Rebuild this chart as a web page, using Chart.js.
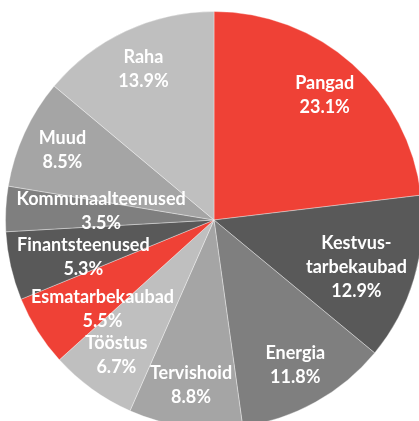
<!DOCTYPE html>
<html>
<head>
<meta charset="utf-8">
<script src="https://cdn.jsdelivr.net/npm/chart.js@4/dist/chart.umd.min.js"></script>
<style>
  html, body { margin: 0; padding: 0; background: #fff; overflow: hidden; }
  #wrap { width: 419px; height: 421px; overflow: hidden; position: relative; }
  canvas { position: absolute; left: 0; top: 0; }
</style>
</head>
<body>
<div id="wrap"><canvas id="pie" width="430" height="440"></canvas></div>
<script>
const sectors = ['Pangad', ['Kestvus-', 'tarbekaubad'], 'Energia', 'Tervishoid', 'Tööstus',
  'Esmatarbekaubad', 'Finantsteenused', 'Kommunaalteenused', 'Muud', 'Raha'];
const shares = [23.1, 12.9, 11.8, 8.8, 6.7, 5.5, 5.3, 3.5, 8.5, 13.9];
const sliceColors = ['#EF4136', '#595959', '#7F7F7F', '#A5A5A5', '#BFBFBF',
  '#EF4136', '#595959', '#7F7F7F', '#A5A5A5', '#BFBFBF'];

// labels inside the slices, pushed inwards when the text would run off the pie
const sliceLabels = {
  id: 'sliceLabels',
  afterDatasetsDraw(chart) {
    const ctx = chart.ctx;
    const meta = chart.getDatasetMeta(0);
    ctx.save();
    ctx.font = 'bold 18px Lato';
    ctx.fillStyle = '#fff';
    ctx.textAlign = 'center';
    ctx.textBaseline = 'middle';
    const lh = 24;
    meta.data.forEach((arc, i) => {
      const { x, y, startAngle, endAngle, outerRadius } =
        arc.getProps(['x', 'y', 'startAngle', 'endAngle', 'outerRadius'], true);
      const mid = (startAngle + endAngle) / 2;
      let px = x + Math.cos(mid) * outerRadius * 0.8;
      const py = y + Math.sin(mid) * outerRadius * 0.8;
      const name = sectors[i];
      const lines = (Array.isArray(name) ? name : [name]).concat(shares[i].toFixed(1) + '%');
      const top = py - (lines.length - 1) * lh / 2;
      const lim = outerRadius - 10;
      lines.forEach((t, k) => {
        const ly = top + k * lh;
        const hw = ctx.measureText(t).width / 2;
        const half = Math.sqrt(Math.max(lim * lim - (ly - y) * (ly - y), 0));
        if (px - hw < x - half) px = x - half + hw;
        if (px + hw > x + half) px = x + half - hw;
      });
      lines.forEach((t, k) => ctx.fillText(t, px, top + k * lh));
    });
    ctx.restore();
  }
};

new Chart(document.getElementById('pie').getContext('2d'), {
  type: 'pie',
  data: {
    labels: sectors,
    datasets: [{
      data: shares,
      backgroundColor: sliceColors,
      borderColor: 'rgba(255,255,255,0.35)',
      borderWidth: 1
    }]
  },
  options: {
    responsive: false,
    animation: false,
    layout: { padding: { left: 5, top: 11, right: 7, bottom: 11 } },
    plugins: {
      legend: { display: false },
      tooltip: { enabled: false }
    }
  },
  plugins: [sliceLabels]
});
</script>
</body>
</html>
